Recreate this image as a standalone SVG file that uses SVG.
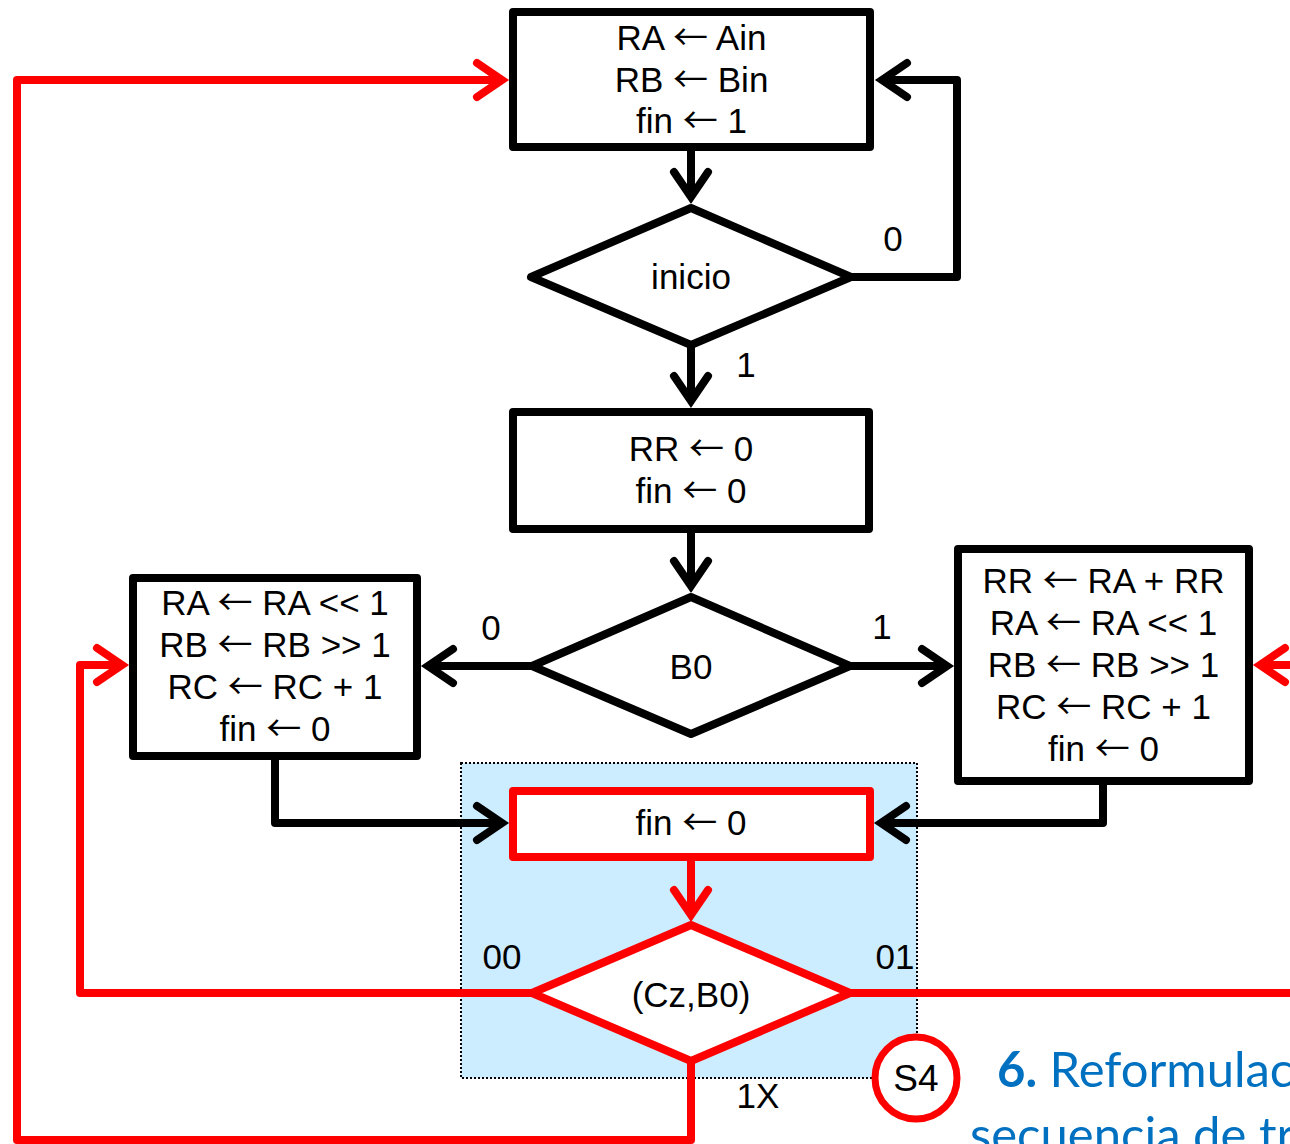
<svg xmlns="http://www.w3.org/2000/svg" width="1290" height="1144" viewBox="0 0 1290 1144">
  <style>
    .box { fill: #fff; stroke: #000; stroke-width: 8; stroke-linejoin: round; }
    .box-red { fill: #fff; stroke: #f00; stroke-width: 8; stroke-linejoin: round; }
    .wire { fill: none; stroke: #000; stroke-width: 8; stroke-linejoin: round; }
    .wire-red { fill: none; stroke: #f00; stroke-width: 8; stroke-linejoin: round; }
    .t { font-family: "Liberation Sans", Arial, sans-serif; font-size: 35px; fill: #000; text-anchor: middle; }
    .arr { font-family: "Noto Sans CJK SC", "DejaVu Sans", sans-serif; }
    .title { font-family: Lato, "Open Sans", sans-serif; font-size: 49px; fill: #0070C0; }
  </style>
  <defs>
    <marker id="ah" markerUnits="userSpaceOnUse" viewBox="-40 -30 60 60" markerWidth="60" markerHeight="60" refX="0" refY="0" orient="auto" overflow="visible">
      <path d="M-25,-17 L0,0 L-25,17" fill="none" stroke="#000" stroke-width="8" stroke-linecap="round" stroke-linejoin="miter"/>
    </marker>
    <marker id="ah-red" markerUnits="userSpaceOnUse" viewBox="-40 -30 60 60" markerWidth="60" markerHeight="60" refX="0" refY="0" orient="auto" overflow="visible">
      <path d="M-25,-17 L0,0 L-25,17" fill="none" stroke="#f00" stroke-width="8" stroke-linecap="round" stroke-linejoin="miter"/>
    </marker>
  </defs>

  <!-- highlighted state region -->
  <rect x="461" y="763" width="456" height="315" fill="#CCECFF" stroke="#000" stroke-width="2" stroke-dasharray="2 2"/>

  <g id="connectors">
    <!-- black flow -->
    <path class="wire" d="M691,151 V197" marker-end="url(#ah)"/>
    <path class="wire" d="M851,277 H957 V80 H882" marker-end="url(#ah)"/>
    <path class="wire" d="M691,345 V401" marker-end="url(#ah)"/>
    <path class="wire" d="M691,529 V586" marker-end="url(#ah)"/>
    <path class="wire" d="M532,666 H428" marker-end="url(#ah)"/>
    <path class="wire" d="M850,666 H947" marker-end="url(#ah)"/>
    <path class="wire" d="M275,756 V823 H502" marker-end="url(#ah)"/>
    <path class="wire" d="M1103,781 V823 H881" marker-end="url(#ah)"/>
    <!-- red flow -->
    <path class="wire-red" d="M691,857 V915" marker-end="url(#ah-red)"/>
    <path class="wire-red" d="M532,993 H80 V665 H122" marker-end="url(#ah-red)"/>
    <path class="wire-red" d="M850,993 H1300"/>
    <path class="wire-red" d="M1300,665 H1260" marker-end="url(#ah-red)"/>
    <path class="wire-red" d="M691,1061 V1140 H17 V80 H502" marker-end="url(#ah-red)"/>
    <!-- branch labels -->
    <text class="t" x="893" y="251">0</text>
    <text class="t" x="746" y="377">1</text>
    <text class="t" x="491" y="640">0</text>
    <text class="t" x="882" y="639">1</text>
    <text class="t" x="502" y="969">00</text>
    <text class="t" x="895" y="969">01</text>
    <text class="t" x="758" y="1108">1X</text>
  </g>

  <g id="load">
    <rect class="box" x="513" y="12" width="357" height="135"/>
    <text class="t" x="691.5" y="50">RA <tspan class="arr">←</tspan> Ain</text>
    <text class="t" x="691.5" y="91.5">RB <tspan class="arr">←</tspan> Bin</text>
    <text class="t" x="691.5" y="133">fin <tspan class="arr">←</tspan> 1</text>
  </g>

  <g id="inicio">
    <polygon class="box" points="531,277 691,208 851,277 691,345"/>
    <text class="t" x="691" y="289">inicio</text>
  </g>

  <g id="clear">
    <rect class="box" x="513" y="412" width="356" height="117"/>
    <text class="t" x="691" y="461">RR <tspan class="arr">←</tspan> 0</text>
    <text class="t" x="691" y="503">fin <tspan class="arr">←</tspan> 0</text>
  </g>

  <g id="b0">
    <polygon class="box" points="532,666 691,597 850,666 691,734"/>
    <text class="t" x="691" y="679">B0</text>
  </g>

  <g id="shift">
    <rect class="box" x="133" y="578" width="284" height="178"/>
    <text class="t" x="275" y="615">RA <tspan class="arr">←</tspan> RA &lt;&lt; 1</text>
    <text class="t" x="275" y="657">RB <tspan class="arr">←</tspan> RB &gt;&gt; 1</text>
    <text class="t" x="275" y="699">RC <tspan class="arr">←</tspan> RC + 1</text>
    <text class="t" x="275" y="741">fin <tspan class="arr">←</tspan> 0</text>
  </g>

  <g id="add-shift">
    <rect class="box" x="958" y="549" width="291" height="232"/>
    <text class="t" x="1103.5" y="593">RR <tspan class="arr">←</tspan> RA + RR</text>
    <text class="t" x="1103.5" y="635">RA <tspan class="arr">←</tspan> RA &lt;&lt; 1</text>
    <text class="t" x="1103.5" y="677">RB <tspan class="arr">←</tspan> RB &gt;&gt; 1</text>
    <text class="t" x="1103.5" y="719">RC <tspan class="arr">←</tspan> RC + 1</text>
    <text class="t" x="1103.5" y="761">fin <tspan class="arr">←</tspan> 0</text>
  </g>

  <g id="s4-box">
    <rect class="box-red" x="513" y="791" width="357" height="66"/>
    <text class="t" x="691" y="835">fin <tspan class="arr">←</tspan> 0</text>
  </g>

  <g id="s4-test">
    <polygon class="box-red" points="532,993 691,925 850,993 691,1061"/>
    <text class="t" x="691" y="1007">(Cz,B0)</text>
  </g>

  <g id="s4-tag">
    <circle cx="916" cy="1078" r="41" fill="#fff" stroke="#f00" stroke-width="7"/>
    <text class="t" x="916" y="1091" style="font-size:37px">S4</text>
  </g>

  <g id="caption">
    <text class="title" x="997" y="1087"><tspan font-weight="bold">6.</tspan> Reformulac</text>
    <text class="title" x="970" y="1152">secuencia de tr</text>
  </g>
</svg>
